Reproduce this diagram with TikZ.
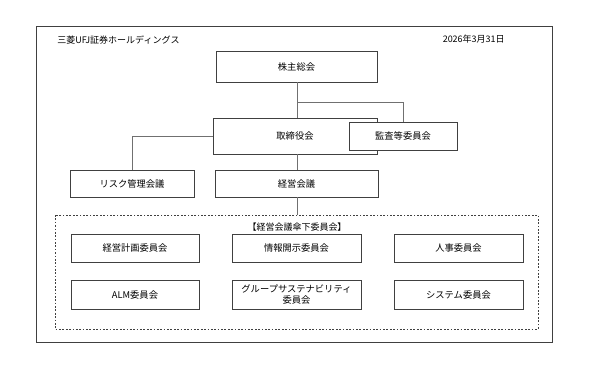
\documentclass[tikz,border=0pt]{standalone}
\usepackage{fontspec}
\newfontfamily\jpfont{Noto Sans CJK JP}
\usepackage{xcolor}
\definecolor{cLine}{HTML}{707070}
\definecolor{cEdge}{HTML}{404040}
\definecolor{cText}{HTML}{000000}
\usetikzlibrary{positioning,calc}
\tikzset{
  org-box/.style={draw=cEdge,thin,fill=white,inner sep=1pt,align=center,
    text=cText,font=\jpfont\fontsize{6.6}{8.5}\selectfont},
  org-group/.style={draw=cEdge,thin,dash pattern=on 1.2pt off 1.2pt},
  org-line/.style={draw=cLine,thin},
  org-note/.style={inner sep=0pt,text=cText,font=\jpfont\fontsize{6.4}{8}\selectfont},
}

\begin{document}
\begin{tikzpicture}[x=0.025cm,y=-0.025cm]
  \useasboundingbox (0,0) rectangle (600,375);
  \draw[draw=cEdge,thin] (36,26) rectangle (552,342);
  \node[org-note,anchor=west] (firm) at (57,40) {三菱UFJ証券ホールディングス};
  \node[org-note,anchor=east] (date) at (505,39) {2026年3月31日};

  \draw[org-group] (55,215) rectangle (538,329);
  \coordinate (grp) at (297,215);
  \node[org-note] (grptitle) at (297,227) {【経営会議傘下委員会】};

  \node[org-box,minimum width=161*0.025cm,minimum height=31*0.025cm] (agm) at (296.5,66.5) {株主総会};
  \node[org-box,minimum width=164*0.025cm,minimum height=36*0.025cm] (board) at (295,136) {取締役会};
  \coordinate (br) at (297,102);
  \draw[org-line] (agm.south -| br) -- (board.north -| br);
  \node[org-box,minimum width=108*0.025cm,minimum height=28*0.025cm] (audit) at (403,136) {監査等委員会};
  \draw[org-line] (br) -| (audit.north);
  \node[org-box,minimum width=124*0.025cm,minimum height=27*0.025cm] (risk) at (132,183.5) {リスク管理会議};
  \node[org-box,minimum width=163*0.025cm,minimum height=27*0.025cm] (exec) at (296.5,183.5) {経営会議};
  \draw[org-line] (board.west) -| (risk.north);
  \draw[org-line] (board.south -| br) -- (exec.north -| br);
  \draw[org-line] (exec.south -| br) -- (grp);

  \node[org-box,minimum width=128*0.025cm,minimum height=28*0.025cm] (plan) at (135,248) {経営計画委員会};
  \node[org-box,minimum width=129*0.025cm,minimum height=28*0.025cm] (disc) at (296.5,248) {情報開示委員会};
  \node[org-box,minimum width=129*0.025cm,minimum height=28*0.025cm] (hr) at (458.5,248) {人事委員会};
  \node[org-box,minimum width=128*0.025cm,minimum height=29*0.025cm] (alm) at (135,294.5) {ALM委員会};
  \node[org-box,minimum width=129*0.025cm,minimum height=29*0.025cm] (sus) at (296.5,294.5) {グループサステナビリティ\\委員会};
  \node[org-box,minimum width=129*0.025cm,minimum height=29*0.025cm] (sys) at (458.5,294.5) {システム委員会};
\end{tikzpicture}
\end{document}
